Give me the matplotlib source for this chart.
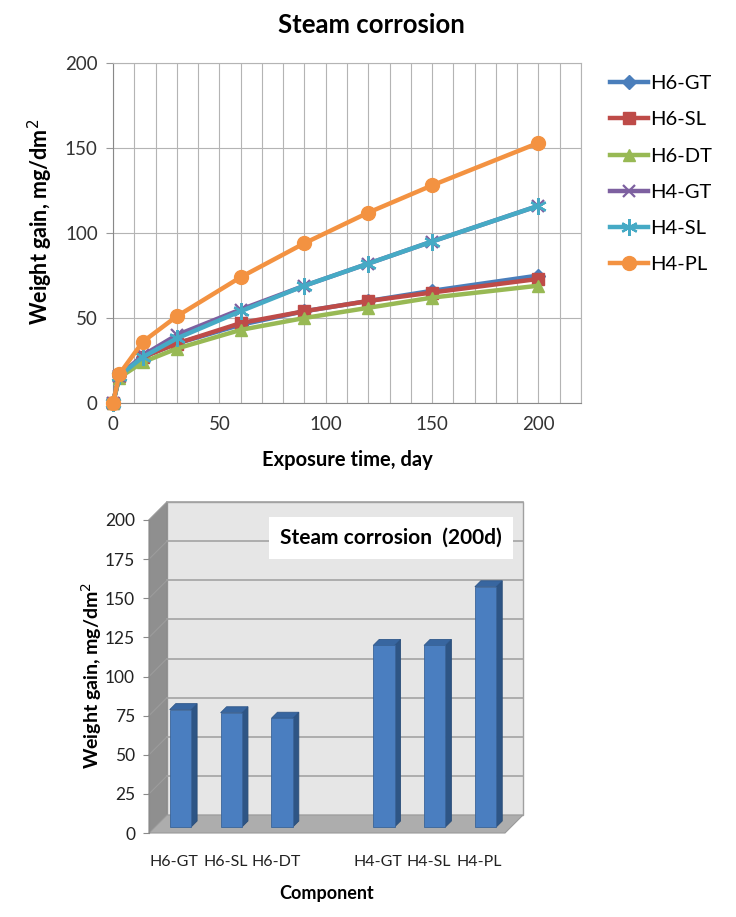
import numpy as np
import matplotlib
matplotlib.use('Agg')
import matplotlib.pyplot as plt
from matplotlib.transforms import ScaledTranslation, IdentityTransform
from matplotlib.patches import Polygon, Rectangle

plt.rcParams['font.family'] = ['Lato', 'DejaVu Sans']

# line chart data
days = [0, 3, 14, 30, 60, 90, 120, 150, 200]
h6_gt = [0, 16, 27, 35, 46, 54, 60, 66, 75]
h6_sl = [0, 16, 27, 35, 47, 54, 60, 65, 73]
h6_dt = [0, 15, 24, 32, 43, 50, 56, 62, 69]
h4_gt = [0, 16, 28, 40, 55, 69, 82, 95, 116]
h4_sl = [0, 16, 27, 38, 54, 69, 82, 95, 116]
h4_pl = [0, 17, 36, 51, 74, 94, 112, 128, 153]
names = ['H6-GT', 'H6-SL', 'H6-DT', 'H4-GT', 'H4-SL', 'H4-PL']

# bar chart data (200 days)
components = ['H6-GT', 'H6-SL', 'H6-DT', '', 'H4-GT', 'H4-SL', 'H4-PL']
gain_200d = [75, 73, 69.5, np.nan, 116, 116, 153.5]

W, H = 736, 917
fig = plt.figure(figsize=(W / 100, H / 100), dpi=100)
fig.patch.set_facecolor('white')

# ---------------- top: line chart ----------------
ax = fig.add_axes([113 / W, 1 - 403 / H, (581 - 113) / W, (403 - 63) / H])
styles = [
    ('#4A7EBB', 'D', 7, 1),
    ('#BE4B48', 's', 8, 1),
    ('#98B954', '^', 9, 1),
    ('#7D60A0', 'x', 9, 1.6),
    ('#46AAC5', (6, 2, 0), 12, 1.6),
    ('#F39241', 'o', 10, 1),
]
series = [h6_gt, h6_sl, h6_dt, h4_gt, h4_sl, h4_pl]
for name, vals, (c, m, ms, mew) in zip(names, series, styles):
    ax.plot(days, vals, color=c, lw=3.2, marker=m, ms=ms, mew=mew,
            mec=c, mfc=c, label=name, clip_on=False, zorder=3)

ax.set_xlim(0, 220)
ax.set_ylim(0, 200)
ax.set_xticks(np.arange(0, 201, 50))
ax.set_xticks(np.arange(0, 221, 10), minor=True)
ax.set_yticks(np.arange(0, 201, 50))
ax.grid(True, which='both', axis='x', color='#b4b4b4', lw=0.8)
ax.grid(True, which='major', axis='y', color='#b4b4b4', lw=0.8)
ax.tick_params(axis='x', which='both', length=0, pad=9, labelsize=13.5, labelcolor='#333333')
ax.tick_params(axis='y', length=5, color='#999999', pad=6, labelsize=13.5, labelcolor='#333333')
for s in ax.spines.values():
    s.set_color('#b4b4b4')
ax.spines['left'].set_color('#888888')
ax.spines['bottom'].set_color('#888888')

fig.text(0.505, 1 - 25 / H, 'Steam corrosion', ha='center', va='center',
         fontsize=18.5, fontweight='bold')
fig.text(40 / W, 1 - 222 / H, 'Weight gain, mg/dm$^2$', rotation=90,
         ha='center', va='center', fontsize=15.5, fontweight='bold')
fig.text(347 / W, 1 - 460 / H, 'Exposure time, day', ha='center', va='center',
         fontsize=14.5, fontweight='bold')

ax.legend(loc='upper left', bbox_to_anchor=(610 / W, 1 - 75 / H),
          bbox_transform=fig.transFigure, frameon=False, fontsize=14.5,
          handlelength=1.9, handletextpad=0.1, labelspacing=0.95,
          borderaxespad=0, borderpad=0)

# ---------------- bottom: pseudo-3D bar chart ----------------
ax2 = fig.add_axes([149 / W, 1 - 833 / H, (505 - 149) / W, (833 - 520) / H])
ax2.set_xlim(-0.5, 6.5)
ax2.set_ylim(0, 200)
ax2.patch.set_visible(False)


def shift(px):
    return ScaledTranslation(px / 100, px / 100, fig.dpi_scale_trans)


depth = 18
ident = IdentityTransform()

# back wall
ax2.add_patch(Rectangle((0, 0), 1, 1, transform=ax2.transAxes + shift(depth),
                        facecolor='#e6e6e6', edgecolor='#a0a0a0', lw=1,
                        clip_on=False, zorder=0))
# side wall and floor
fl = ax2.transAxes.transform([(0, 0), (0, 1), (1, 0)])
bk = (ax2.transAxes + shift(depth)).transform([(0, 0), (0, 1), (1, 0)])
ax2.add_patch(Polygon([fl[0], fl[1], bk[1], bk[0]], closed=True, transform=ident,
                      facecolor='#8f8f8f', edgecolor='#8a8a8a', lw=0.8,
                      clip_on=False, zorder=0.5))
ax2.add_patch(Polygon([fl[0], fl[2], bk[2], bk[0]], closed=True, transform=ident,
                      facecolor='#adadad', edgecolor='#9a9a9a', lw=0.8,
                      clip_on=False, zorder=1))

# back-wall gridlines + faint side-wall lines
ytk = np.arange(0, 201, 25)
for y in ytk[1:]:
    ax2.plot([0, 1], [y, y], transform=ax2.get_yaxis_transform() + shift(depth),
             color='#a3a3a3', lw=1.2, clip_on=False, zorder=0.6)
    p0 = ax2.transData.transform((-0.5, y))
    p1 = (ax2.transData + shift(depth)).transform((-0.5, y))
    ax2.plot([p0[0], p1[0]], [p0[1], p1[1]], transform=ident,
             color='#9c9c9c', lw=0.8, clip_on=False, zorder=0.6)

# bars
pos = np.arange(len(components))
vals = np.array(gain_200d, dtype=float)
ok = ~np.isnan(vals)
bw = 0.42
d0, d1 = 6, 12
ax2.bar(pos[ok], vals[ok], width=bw, color='#4A7EC0', edgecolor='#3a6499', lw=0.6,
        transform=ax2.transData + shift(d0), clip_on=False, zorder=3)
for x, v in zip(pos[ok], vals[ok]):
    t0 = ax2.transData + shift(d0)
    t1 = ax2.transData + shift(d1)
    a = t0.transform([(x + bw / 2, 0), (x + bw / 2, v), (x - bw / 2, v)])
    b = t1.transform([(x + bw / 2, 0), (x + bw / 2, v), (x - bw / 2, v)])
    ax2.add_patch(Polygon([a[0], a[1], b[1], b[0]], closed=True, transform=ident,
                          facecolor='#2E5585', edgecolor='#2a4d78', lw=0.6,
                          clip_on=False, zorder=2.9))
    ax2.add_patch(Polygon([a[2], a[1], b[1], b[2]], closed=True, transform=ident,
                          facecolor='#3866A0', edgecolor='#2f5789', lw=0.6,
                          clip_on=False, zorder=2.9))

ax2.set_yticks(ytk)
ax2.set_xticks(pos)
ax2.set_xticklabels(components)
for s in ['top', 'right', 'bottom']:
    ax2.spines[s].set_visible(False)
ax2.spines['left'].set_color('#8a8a8a')
ax2.tick_params(axis='y', length=4, color='#8a8a8a', pad=6, labelsize=12.5,
                labelcolor='#222222')
ax2.tick_params(axis='x', length=0, pad=16, labelsize=11.5, labelcolor='#222222')

fig.text(391 / W, 1 - 538 / H, 'Steam corrosion  (200d)', ha='center', va='center',
         fontsize=15, fontweight='bold',
         bbox=dict(facecolor='white', edgecolor='none', pad=8))
fig.text(92 / W, 1 - 675 / H, 'Weight gain, mg/dm$^2$', rotation=90,
         ha='center', va='center', fontsize=14, fontweight='bold')
fig.text(327 / W, 1 - 893 / H, 'Component', ha='center', va='center',
         fontsize=13, fontweight='bold')

fig.savefig('out.png', dpi=100, facecolor='white')
